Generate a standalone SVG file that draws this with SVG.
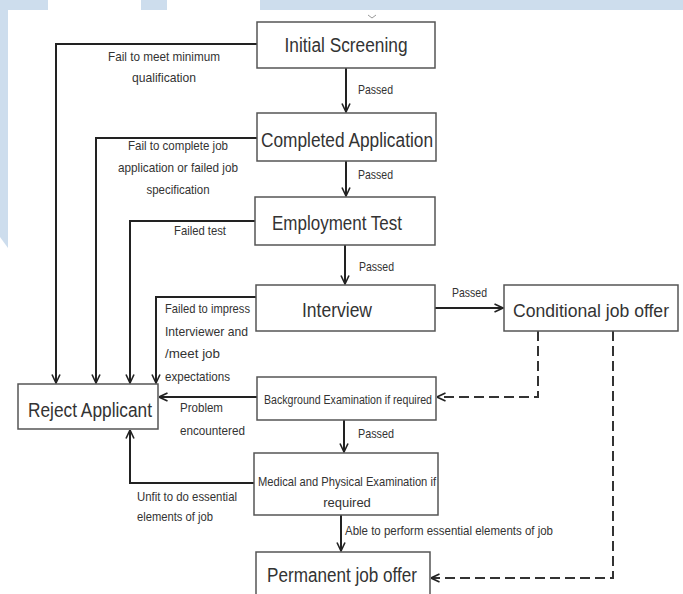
<svg xmlns="http://www.w3.org/2000/svg" width="683" height="594" viewBox="0 0 683 594">
<style>
.bg{fill:#cddded}
.box{fill:#ffffff;stroke:#555555;stroke-width:1.5}
.t{font-family:"Liberation Sans",Arial,sans-serif;fill:#333333}
.big{font-size:20px}
.sm{font-size:13px}
.mid{text-anchor:middle}
.ln{fill:none;stroke:#222222;stroke-width:2}
.dash{fill:none;stroke:#333333;stroke-width:2;stroke-dasharray:10 5}
</style>
<defs>
<marker id="ah" viewBox="0 0 10 10" refX="9.5" refY="5" markerWidth="10" markerHeight="10" markerUnits="userSpaceOnUse" orient="auto">
<path d="M1,1 L9.5,5 L1,9" fill="none" stroke="#222222" stroke-width="1.6"/>
</marker>
</defs>
<rect width="683" height="594" fill="#ffffff"/>
<g id="background">
<rect class="bg" x="0" y="0" width="48" height="10"/>
<rect class="bg" x="141" y="0" width="26" height="10"/>
<rect class="bg" x="260" y="0" width="423" height="10"/>
<polygon class="bg" points="0,0 8,0 8,248 0,237"/>
<path d="M368,15 L372,18 L376,15" fill="none" stroke="#999999" stroke-width="1"/>
</g>
<g id="connectors">
<path class="ln" d="M257,44 H56 V383" marker-end="url(#ah)"/>
<path class="ln" d="M257,138 H96 V383" marker-end="url(#ah)"/>
<path class="ln" d="M255,221 H130 V383" marker-end="url(#ah)"/>
<path class="ln" d="M256,297 H156 V383" marker-end="url(#ah)"/>
<path class="ln" d="M257,397 H159" marker-end="url(#ah)"/>
<path class="ln" d="M254,483 H130 V430" marker-end="url(#ah)"/>
<path class="ln" d="M346,68 V112" marker-end="url(#ah)"/>
<path class="ln" d="M346,161 V196" marker-end="url(#ah)"/>
<path class="ln" d="M345,245 V284" marker-end="url(#ah)"/>
<path class="ln" d="M344,420 V452" marker-end="url(#ah)"/>
<path class="ln" d="M341,515 V551" marker-end="url(#ah)"/>
<path class="ln" d="M435,308 H503" marker-end="url(#ah)"/>
<path class="dash" d="M538,331 V397 H437" marker-end="url(#ah)"/>
<path class="dash" d="M613,331 V578 H431" marker-end="url(#ah)"/>
<g class="t sm">
<text x="164" y="61" class="mid" textLength="112" lengthAdjust="spacingAndGlyphs">Fail to meet minimum</text>
<text x="164" y="82" class="mid" textLength="64" lengthAdjust="spacingAndGlyphs">qualification</text>
<text x="358" y="94" textLength="35" lengthAdjust="spacingAndGlyphs">Passed</text>
<text x="178" y="150" class="mid" textLength="100" lengthAdjust="spacingAndGlyphs">Fail to complete job</text>
<text x="178" y="172" class="mid" textLength="120" lengthAdjust="spacingAndGlyphs">application or failed job</text>
<text x="178" y="194" class="mid" textLength="63" lengthAdjust="spacingAndGlyphs">specification</text>
<text x="358" y="179" textLength="35" lengthAdjust="spacingAndGlyphs">Passed</text>
<text x="174" y="235" textLength="52" lengthAdjust="spacingAndGlyphs">Failed test</text>
<text x="359" y="271" textLength="35" lengthAdjust="spacingAndGlyphs">Passed</text>
<text x="165" y="313" textLength="85" lengthAdjust="spacingAndGlyphs">Failed to impress</text>
<text x="165" y="336" textLength="83" lengthAdjust="spacingAndGlyphs">Interviewer and</text>
<text x="165" y="358" textLength="55" lengthAdjust="spacingAndGlyphs">/meet job</text>
<text x="165" y="381" textLength="65" lengthAdjust="spacingAndGlyphs">expectations</text>
<text x="452" y="297" textLength="35" lengthAdjust="spacingAndGlyphs">Passed</text>
<text x="180" y="412" textLength="43" lengthAdjust="spacingAndGlyphs">Problem</text>
<text x="180" y="435" textLength="65" lengthAdjust="spacingAndGlyphs">encountered</text>
<text x="358" y="438" textLength="36" lengthAdjust="spacingAndGlyphs">Passed</text>
<text x="137" y="501" textLength="100" lengthAdjust="spacingAndGlyphs">Unfit to do essential</text>
<text x="137" y="521" textLength="76" lengthAdjust="spacingAndGlyphs">elements of job</text>
<text x="345" y="535" textLength="208" lengthAdjust="spacingAndGlyphs">Able to perform essential elements of job</text>
</g>
</g>
<g id="initial-screening">
<rect class="box" x="257" y="22" width="178" height="46"/>
<text class="t big mid" x="346" y="52" textLength="123" lengthAdjust="spacingAndGlyphs">Initial Screening</text>
</g>
<g id="completed-application">
<rect class="box" x="257" y="113" width="179" height="48"/>
<text class="t big mid" x="347" y="147" textLength="172" lengthAdjust="spacingAndGlyphs">Completed Application</text>
</g>
<g id="employment-test">
<rect class="box" x="255" y="197" width="180" height="48"/>
<text class="t big mid" x="337" y="230" textLength="130" lengthAdjust="spacingAndGlyphs">Employment Test</text>
</g>
<g id="interview">
<rect class="box" x="256" y="285" width="179" height="46"/>
<text class="t big mid" x="337" y="317" textLength="70" lengthAdjust="spacingAndGlyphs">Interview</text>
</g>
<g id="conditional-job-offer">
<rect class="box" x="504" y="285" width="174" height="46"/>
<text class="t mid" x="591" y="317" font-size="18" textLength="156" lengthAdjust="spacingAndGlyphs">Conditional job offer</text>
</g>
<g id="reject-applicant">
<rect class="box" x="18" y="384" width="140" height="45"/>
<text class="t big mid" x="90" y="417" textLength="124" lengthAdjust="spacingAndGlyphs">Reject Applicant</text>
</g>
<g id="background-examination">
<rect class="box" x="257" y="377" width="179" height="43"/>
<text class="t mid" x="348" y="404" font-size="12" textLength="168" lengthAdjust="spacingAndGlyphs">Background Examination if required</text>
</g>
<g id="medical-examination">
<rect class="box" x="254" y="453" width="184" height="62"/>
<text class="t mid" x="347" y="486" font-size="13" textLength="178" lengthAdjust="spacingAndGlyphs">Medical and Physical Examination if</text>
<text class="t mid" x="347" y="507" font-size="13">required</text>
</g>
<g id="permanent-job-offer">
<rect class="box" x="256" y="552" width="174" height="50"/>
<text class="t big mid" x="342" y="582" textLength="150" lengthAdjust="spacingAndGlyphs">Permanent job offer</text>
</g>
</svg>
